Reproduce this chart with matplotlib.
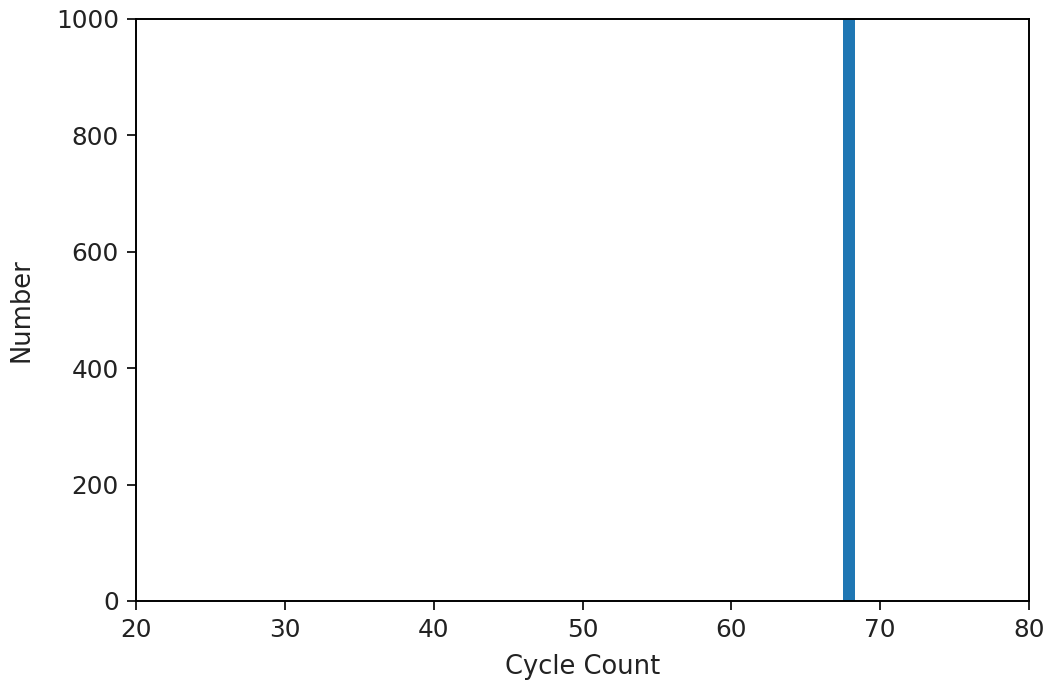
import numpy as np
import matplotlib
matplotlib.use("Agg")
import matplotlib.pyplot as plt

# histogram of cycle counts (single bin, clipped at the top of the axis)
bin_left = [67.5]
bin_width = [0.8]
counts = [10000]

x_range = (20, 80)
y_range = (0, 1000)

fig = plt.figure(figsize=(1049 / 175, 690 / 175), dpi=175)
ax = fig.add_axes([136 / 1049, 1 - 601 / 690, (1029 - 136) / 1049, (601 - 19) / 690])

ax.bar(bin_left, counts, width=bin_width, align='edge', color='#1f77b4')
ax.set_xlim(*x_range)
ax.set_ylim(*y_range)
ax.tick_params(labelsize=10.2, colors='#222222')
ax.set_xlabel('Cycle Count', fontsize=10.6, color='#222222', labelpad=5)
ax.set_ylabel('Number', fontsize=10.6, color='#222222', labelpad=9)

fig.savefig('out.png', dpi=175)
